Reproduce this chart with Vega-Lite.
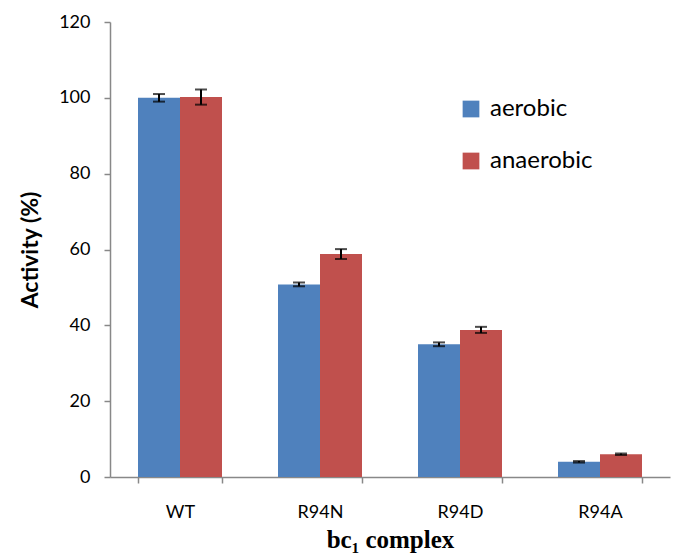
{
  "$schema": "https://vega.github.io/schema/vega-lite/v6.json",
  "width": 560,
  "height": 455,
  "autosize": "none",
  "padding": {"left": 110, "top": 22, "right": 6, "bottom": 81},
  "background": "white",
  "config": {"view": {"stroke": null}, "font": "Lato"},
  "data": {
    "values": [
      {"complex": "WT", "condition": "aerobic", "activity": 100, "lo": 99, "hi": 101},
      {"complex": "WT", "condition": "anaerobic", "activity": 100.2, "lo": 98.2, "hi": 102.2},
      {"complex": "R94N", "condition": "aerobic", "activity": 50.8, "lo": 50.3, "hi": 51.3},
      {"complex": "R94N", "condition": "anaerobic", "activity": 58.8, "lo": 57.5, "hi": 60.1},
      {"complex": "R94D", "condition": "aerobic", "activity": 35, "lo": 34.5, "hi": 35.5},
      {"complex": "R94D", "condition": "anaerobic", "activity": 38.8, "lo": 38, "hi": 39.6},
      {"complex": "R94A", "condition": "aerobic", "activity": 4, "lo": 3.8, "hi": 4.2},
      {"complex": "R94A", "condition": "anaerobic", "activity": 6, "lo": 5.8, "hi": 6.2}
    ]
  },
  "encoding": {
    "x": {
      "field": "complex", "type": "nominal", "sort": ["WT", "R94N", "R94D", "R94A"],
      "scale": {"paddingInner": 0.4, "paddingOuter": 0.2},
      "axis": {
        "title": "bc\u2081 complex", "titleFont": "Liberation Serif", "titleFontSize": 25, "titleFontWeight": "bold",
        "titleColor": "#000", "titlePadding": 6,
        "labelAngle": 0, "labelFontSize": 18, "labelColor": "#000", "labelPadding": 20,
        "tickBand": "extent", "tickSize": 6, "tickColor": "#888", "domainColor": "#888", "domainWidth": 1.5, "tickWidth": 1.5
      }
    },
    "xOffset": {"field": "condition", "type": "nominal", "sort": ["aerobic", "anaerobic"], "scale": {"paddingInner": 0, "paddingOuter": 0}}
  },
  "layer": [
    {
      "mark": {"type": "bar"},
      "encoding": {
        "y": {
          "field": "activity", "type": "quantitative",
          "scale": {"domain": [0, 120], "nice": false},
          "axis": {
            "title": "Activity (%)", "titleFontSize": 23, "titleFontWeight": "bold", "titleColor": "#000", "titlePadding": 16,
            "values": [0, 20, 40, 60, 80, 100, 120], "grid": false,
            "labelFontSize": 18, "labelColor": "#000", "labelPadding": 14,
            "tickSize": 6, "tickColor": "#888", "domainColor": "#888", "domainWidth": 1.5, "tickWidth": 1.5
          }
        },
        "color": {
          "field": "condition", "type": "nominal",
          "scale": {"domain": ["aerobic", "anaerobic"], "range": ["#4F81BD", "#C0504D"]},
          "legend": {
            "title": null, "orient": "none", "legendX": 349, "legendY": 75,
            "symbolType": "square", "symbolSize": 280, "symbolStrokeWidth": 0, "symbolOpacity": 1,
            "labelFontSize": 24, "labelColor": "#000", "labelOffset": 7, "rowPadding": 28
          }
        }
      }
    },
    {
      "mark": {"type": "rule", "color": "#000", "strokeWidth": 2},
      "encoding": {"y": {"field": "lo", "type": "quantitative"}, "y2": {"field": "hi"}}
    },
    {
      "mark": {"type": "tick", "color": "#000", "thickness": 2, "size": 12, "orient": "horizontal"},
      "encoding": {"y": {"field": "lo", "type": "quantitative"}}
    },
    {
      "mark": {"type": "tick", "color": "#000", "thickness": 2, "size": 12, "orient": "horizontal"},
      "encoding": {"y": {"field": "hi", "type": "quantitative"}}
    }
  ]
}
